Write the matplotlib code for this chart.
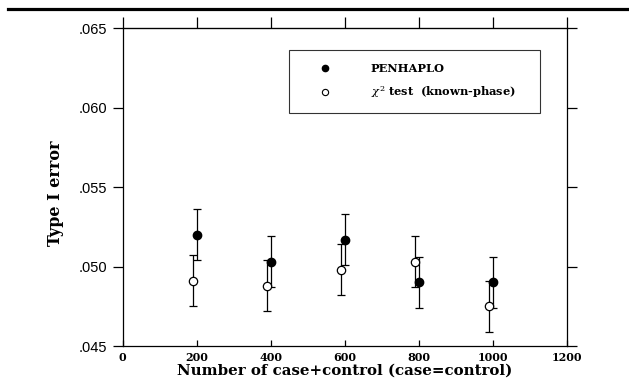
import matplotlib
matplotlib.use("Agg")
import matplotlib.pyplot as plt
from matplotlib.lines import Line2D
from matplotlib.ticker import FuncFormatter

# sample sizes (case+control); the chi2 points are shifted a bit to the left
n_total = [200, 400, 600, 800, 1000]
chi_offset = -10

# type I error, PENHAPLO
pen_err = [0.0520, 0.0503, 0.0517, 0.0490, 0.0490]
pen_ci = [0.0016, 0.0016, 0.0016, 0.0016, 0.0016]

# type I error, chi2 test with known phase
chi_err = [0.0491, 0.0488, 0.0498, 0.0503, 0.0475]
chi_ci = [0.0016, 0.0016, 0.0016, 0.0016, 0.0016]

serif = "DejaVu Serif"
plt.rcParams["mathtext.fontset"] = "dejavuserif"

fig = plt.figure(figsize=(6.29, 3.88), dpi=100)
ax = fig.add_axes([0.1948, 0.1082, 0.7062, 0.8188])

ax.errorbar(n_total, pen_err, yerr=pen_ci, fmt="o", color="black",
            markersize=6, markerfacecolor="black", ecolor="black",
            elinewidth=0.9, capsize=3, capthick=0.9, zorder=3)
ax.errorbar([n + chi_offset for n in n_total], chi_err, yerr=chi_ci, fmt="o",
            color="black", markersize=6, markerfacecolor="white",
            markeredgewidth=0.9, ecolor="black", elinewidth=0.9,
            capsize=3, capthick=0.9, zorder=4)

ax.set_xlim(0, 1200)
ax.set_ylim(0.045, 0.065)
ax.set_xticks(range(0, 1201, 200))
ax.set_yticks([0.045, 0.050, 0.055, 0.060, 0.065])
ax.yaxis.set_major_formatter(FuncFormatter(lambda v, p: ("%.3f" % v)[1:]))

# ticks stick out on left/top/right, bottom ones point inward
ax.tick_params(axis="y", which="both", left=True, right=True, direction="out",
               length=7, width=0.9, pad=4, labelsize=10.5)
ax.tick_params(axis="x", which="both", bottom=True, top=False, direction="in",
               length=4, width=0.9, pad=4, labelsize=8)
ax.tick_params(axis="y", right=True, labelright=False)
ax.secondary_xaxis("top").tick_params(direction="out", length=8, width=0.9,
                                      labeltop=False)
for lab in ax.get_yticklabels():
    lab.set_fontfamily("Liberation Sans")
for lab in ax.get_xticklabels():
    lab.set_fontfamily(serif)
    lab.set_fontweight("bold")
for s in ax.spines.values():
    s.set_linewidth(0.9)

ax.set_xlabel("Number of case+control (case=control)", fontfamily=serif,
              fontweight="bold", fontsize=10.8, labelpad=1)
ax.set_ylabel("Type I error", fontfamily=serif, fontweight="bold",
              fontsize=11.5)
ax.yaxis.set_label_coords(-0.132, 0.48)

handles = [
    Line2D([], [], linestyle="none", marker="o", markersize=4.5,
           markerfacecolor="black", markeredgecolor="black"),
    Line2D([], [], linestyle="none", marker="o", markersize=4.5,
           markerfacecolor="white", markeredgecolor="black", markeredgewidth=0.8),
]
labels = ["PENHAPLO", r"$\chi^2$ test  (known-phase)"]
leg = ax.legend(handles, labels, loc="upper left",
                bbox_to_anchor=(289.3 / 629, 1 - 50 / 388, 251 / 629, 0),
                bbox_transform=fig.transFigure, mode="expand",
                prop={"family": serif, "weight": "bold", "size": 8.2},
                frameon=True, fancybox=False, edgecolor="black",
                borderpad=1.15, labelspacing=0.85, handlelength=4.0,
                handletextpad=2.0, borderaxespad=0)
leg.get_frame().set_linewidth(0.8)

# thick rule across the top of the figure
fig.add_artist(Line2D([8 / 629, 1.0], [1 - 9.3 / 388, 1 - 9.3 / 388],
                      color="black", linewidth=2.3, transform=fig.transFigure))

fig.savefig("out.png", dpi=100)
